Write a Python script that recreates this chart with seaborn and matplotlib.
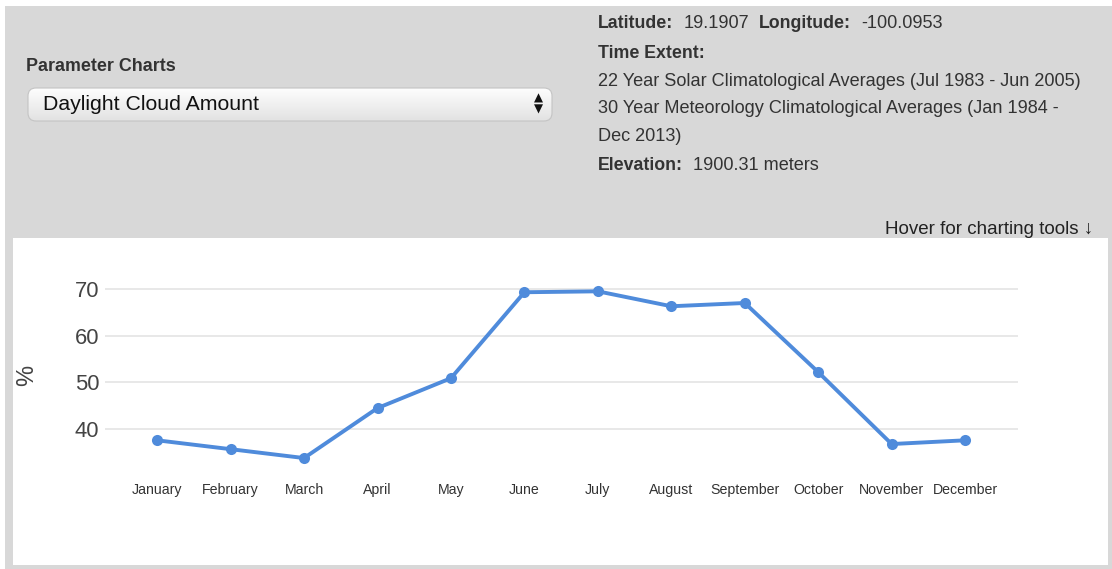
import numpy as np
import pandas as pd
import matplotlib
matplotlib.use("Agg")
import matplotlib.pyplot as plt
from matplotlib.patches import Rectangle, FancyBboxPatch
from matplotlib.colors import LinearSegmentedColormap
import seaborn as sns

# Monthly daylight cloud amount (%)
months = ["January", "February", "March", "April", "May", "June",
          "July", "August", "September", "October", "November", "December"]
cloud_pct = [37.6, 35.7, 33.8, 44.5, 50.9, 69.3, 69.5, 66.3, 67.0, 52.2, 36.8, 37.6]
y_ticks = [40, 50, 60, 70]

sns.set_theme(style="white")
plt.rcParams["font.family"] = ["Liberation Sans", "DejaVu Sans"]

W, H = 1112, 569
fig = plt.figure(figsize=(W / 100, H / 100), dpi=100)
fig.patch.set_facecolor("white")

# Page layer in pixel coordinates
bg = fig.add_axes([0, 0, 1, 1])
bg.set_xlim(0, W)
bg.set_ylim(H, 0)
bg.axis("off")
bg.add_patch(Rectangle((5, 6), W - 5, H - 6, facecolor="#d8d8d8", edgecolor="none"))
bg.add_patch(Rectangle((13, 238), 1095, 327, facecolor="white", edgecolor="none"))

txt = "#333333"
renderer = fig.canvas.get_renderer()
FS_BOLD, FS_REG = 12.8, 13.1


def run(x, y, pieces, gap=10):
    """Write bold/regular text pieces one after another on a line."""
    for s, bold in pieces:
        t = bg.text(x, y, s, fontsize=FS_BOLD if bold else FS_REG,
                    fontweight="bold" if bold else "normal",
                    color=txt, va="center", ha="left")
        bb = t.get_window_extent(renderer=renderer)
        x += bb.width + gap


bg.text(26, 66, "Parameter Charts", fontsize=12.9, fontweight="bold", color=txt,
        va="center", ha="left")

# Select box with soft vertical gradient
box = FancyBboxPatch((28, 88), 524, 33, boxstyle="round,pad=0,rounding_size=8",
                     facecolor="none", edgecolor="#c4c4c4", linewidth=0.8, zorder=2)
bg.add_patch(box)
grad = np.linspace(0, 1, 64).reshape(-1, 1)
im = bg.imshow(grad, extent=(28, 552, 121, 88),
               cmap=LinearSegmentedColormap.from_list("sel", ["#fdfdfd", "#f0f0f0", "#e2e2e2"]),
               aspect="auto", zorder=1)
im.set_clip_path(box)
bg.set_xlim(0, W)
bg.set_ylim(H, 0)
bg.text(43, 104, "Daylight Cloud Amount", fontsize=15.3, color="#111111",
        va="center", ha="left", zorder=3)
bg.text(538, 98.5, "\u25b2", fontsize=8.5, color="#111111", va="center", ha="center",
        zorder=3, family=["DejaVu Sans"])
bg.text(538, 109.5, "\u25bc", fontsize=8.5, color="#111111", va="center", ha="center",
        zorder=3, family=["DejaVu Sans"])

# Site information block
run(598, 23, [("Latitude:", True), ("19.1907", False), ("Longitude:", True), ("-100.0953", False)])
run(598, 53, [("Time Extent:", True)])
run(598, 81, [("22 Year Solar Climatological Averages (Jul 1983 - Jun 2005)", False)])
run(598, 108, [("30 Year Meteorology Climatological Averages (Jan 1984 -", False)])
run(598, 136, [("Dec 2013)", False)])
run(598, 165, [("Elevation:", True), ("1900.31 meters", False)])
bg.text(1093, 229, "Hover for charting tools \u2193", fontsize=13.5, color="#222222",
        va="center", ha="right", family=["Liberation Sans", "DejaVu Sans"])

# Chart axes
y_lo, y_hi = 30, 74
top_px, bot_px = 270.3, 475.8
ax = fig.add_axes([105 / W, 1 - bot_px / H, (1018 - 105) / W, (bot_px - top_px) / H])
ax.set_facecolor("none")

df = pd.DataFrame({"month": months, "cloud": cloud_pct})
sns.lineplot(data=df, x="month", y="cloud", ax=ax, color="#4f8bdb", linewidth=2.8,
             marker="o", markersize=8, markeredgewidth=0, sort=False, zorder=3)

ax.set_xlim(-0.71, 11.72)
ax.set_ylim(y_lo, y_hi)
ax.set_yticks(y_ticks)
ax.yaxis.grid(True, color="#e6e6e6", linewidth=1.3)
ax.xaxis.grid(False)
for s in ax.spines.values():
    s.set_visible(False)
ax.tick_params(axis="y", length=0, pad=4, labelsize=15.8, labelcolor="#444444")
ax.tick_params(axis="x", length=0, pad=5, labelsize=10.2, labelcolor="#333333")
ax.set_xlabel("")
ax.set_ylabel("%", fontsize=17, color="#444444", labelpad=0)
ax.yaxis.set_label_coords((38 - 105) / (1018 - 105), (bot_px - 375) / (bot_px - top_px))

fig.savefig("out.png", dpi=100, facecolor=fig.get_facecolor())
